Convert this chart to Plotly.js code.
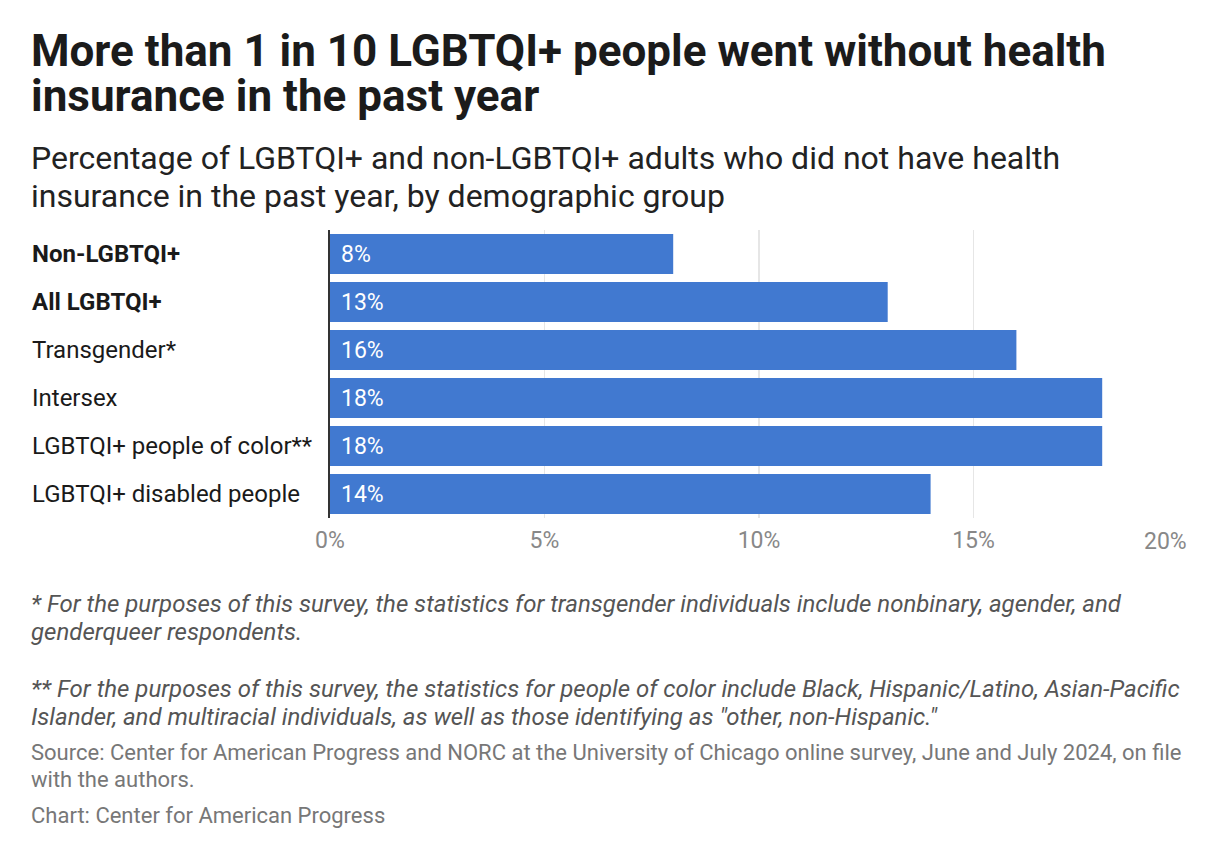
<!DOCTYPE html>
<html>
<head>
<meta charset="utf-8">
<script src="https://cdn.plot.ly/plotly-3.0.1.min.js"></script>
<style>
  html, body { margin: 0; padding: 0; background: #fff; }
  #chart { width: 1220px; height: 860px; }
</style>
</head>
<body>
<div id="chart"></div>
<script>
const categories = [
  "Non-LGBTQI+",
  "All LGBTQI+",
  "Transgender*",
  "Intersex",
  "LGBTQI+ people of color**",
  "LGBTQI+ disabled people"
];
const boldCategories = ["Non-LGBTQI+", "All LGBTQI+"];
const values = [8, 13, 16, 18, 18, 14];
const tickValues = [0, 5, 10, 15, 20];
const tickLabels = ["0%", "5%", "10%", "15%", "20%"];

const titleLines = [
  "More than 1 in 10 LGBTQI+ people went without health",
  "insurance in the past year"
];
const subtitleLines = [
  "Percentage of LGBTQI+ and non-LGBTQI+ adults who did not have health",
  "insurance in the past year, by demographic group"
];
const noteLines = [
  "* For the purposes of this survey, the statistics for transgender individuals include nonbinary, agender, and",
  "genderqueer respondents.",
  "** For the purposes of this survey, the statistics for people of color include Black, Hispanic/Latino, Asian-Pacific",
  "Islander, and multiracial individuals, as well as those identifying as \"other, non-Hispanic.\""
];
const sourceLines = [
  "Source: Center for American Progress and NORC at the University of Chicago online survey, June and July 2024, on file",
  "with the authors."
];
const creditLine = "Chart: Center for American Progress";

// layout geometry (pixels)
const W = 1220, H = 860;
const plotLeft = 330, plotRight = 1188, plotTop = 230, plotBottom = 518;
const plotW = plotRight - plotLeft, plotH = plotBottom - plotTop;
const px = x => (x - plotLeft) / plotW;
const py = y => (plotBottom - y) / plotH;
const FONT = "Roboto, 'Open Sans', sans-serif";

const annotations = [];
function textLine(text, xPix, yPix, size, color, opts) {
  annotations.push(Object.assign({
    text: text, xref: "paper", yref: "paper",
    x: px(xPix), y: py(yPix), xanchor: "left", yanchor: "middle",
    showarrow: false, align: "left",
    font: { family: FONT, size: size, color: color }
  }, opts || {}));
}

textLine("<b>" + titleLines[0] + "</b>", 29, 51, 44, "#1b1b1b");
textLine("<b>" + titleLines[1] + "</b>", 29, 96, 44, "#1b1b1b");
textLine(subtitleLines[0], 29, 158, 32, "#222222");
textLine(subtitleLines[1], 29, 196, 32, "#222222");

textLine("<i>" + noteLines[0] + "</i>", 29, 604, 24, "#555555");
textLine("<i>" + noteLines[1] + "</i>", 29, 632, 24, "#555555");
textLine("<i>" + noteLines[2] + "</i>", 29, 689, 24, "#555555");
textLine("<i>" + noteLines[3] + "</i>", 29, 717, 24, "#555555");
textLine(sourceLines[0], 29, 752, 22, "#777777");
textLine(sourceLines[1], 29, 779, 22, "#777777");
textLine(creditLine, 29, 815, 22, "#777777");

// category labels, left aligned
categories.forEach(c => {
  const bold = boldCategories.indexOf(c) >= 0;
  annotations.push({
    text: bold ? "<b>" + c + "</b>" : c,
    xref: "paper", yref: "y", x: px(30), y: c,
    xanchor: "left", yanchor: "middle", showarrow: false,
    font: { family: FONT, size: 24, color: "#1a1a1a" }
  });
});

// value labels inside bars
categories.forEach((c, i) => {
  annotations.push({
    text: values[i] + "%",
    xref: "x", yref: "y", x: 0, y: c, xshift: 9,
    xanchor: "left", yanchor: "middle", showarrow: false,
    font: { family: FONT, size: 23, color: "#ffffff" }
  });
});

// right-aligned last tick label
annotations.push({
  text: tickLabels[tickLabels.length - 1],
  xref: "x", yref: "paper", x: tickValues[tickValues.length - 1], y: py(541),
  xanchor: "right", yanchor: "middle", showarrow: false, xshift: 1,
  font: { family: FONT, size: 23, color: "#888888" }
});

const trace = {
  type: "bar",
  orientation: "h",
  x: values,
  y: categories,
  marker: { color: "#4179d0" },
  hoverinfo: "none"
};

const layout = {
  width: W, height: H,
  paper_bgcolor: "#ffffff", plot_bgcolor: "#ffffff",
  margin: { l: plotLeft, r: W - plotRight, t: plotTop, b: H - plotBottom, pad: 0 },
  showlegend: false,
  bargap: 0.167,
  font: { family: FONT },
  xaxis: {
    range: [0, 20],
    tickvals: tickValues,
    ticktext: tickLabels.slice(0, -1).concat([""]),
    showgrid: true, gridcolor: "#e6e6e6", gridwidth: 1.5,
    zeroline: false, showline: false,
    ticks: "outside", ticklen: 1, tickcolor: "rgba(0,0,0,0)",
    tickfont: { family: FONT, size: 23, color: "#888888" },
    fixedrange: true
  },
  yaxis: {
    autorange: "reversed",
    showticklabels: false, showgrid: false, zeroline: false,
    showline: true, linecolor: "#333333", linewidth: 2,
    ticks: "", fixedrange: true
  },
  annotations: annotations
};

Plotly.newPlot("chart", [trace], layout, { displayModeBar: false, staticPlot: true });
</script>
</body>
</html>
